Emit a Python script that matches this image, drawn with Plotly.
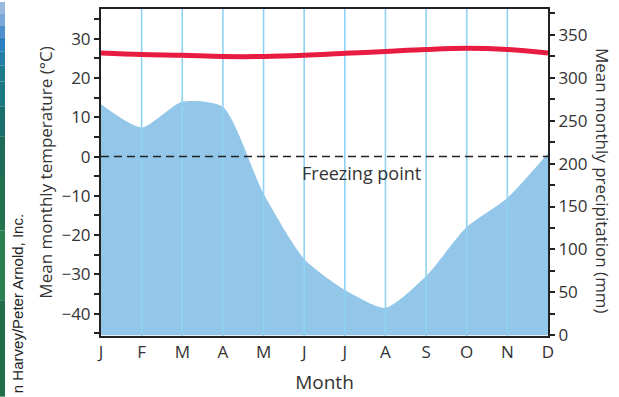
import plotly.graph_objects as go

# Climate data, one value per month
months = ["J", "F", "M", "A", "M", "J", "J", "A", "S", "O", "N", "D"]
temperature_c = [26.4, 26.0, 25.8, 25.5, 25.5, 25.8, 26.3, 26.8, 27.3, 27.6, 27.3, 26.4]
precipitation_mm = [269, 242, 272, 266, 165, 89, 53, 32, 69, 126, 160, 212]

TEMP_RANGE = [-45.7, 37.6]
PRECIP_RANGE = [-0.8, 380]

W, H = 619, 397
ML, MR, MT, MB = 101, 71, 7, 61
PW, PH = W - ML - MR, H - MT - MB


def px_x(p):
    return (p - ML) / PW


def px_y(p):
    return (H - MB - p) / PH


TEXT = "#333333"
FONT = "Open Sans"
idx = list(range(len(months)))

fig = go.Figure()

# Precipitation as a filled area on the right-hand axis
fig.add_trace(go.Scatter(
    x=idx, y=precipitation_mm, mode="lines", line=dict(color="#93c7e9", width=0, shape="spline", smoothing=0.65),
    fill="tozeroy", fillcolor="#93c7e9", yaxis="y", hoverinfo="skip", showlegend=False,
))

# Month gridlines, drawn over the area but under the temperature curve
gx, gy = [], []
for i in idx[1:-1]:
    gx += [i, i, None]
    gy += [PRECIP_RANGE[0], PRECIP_RANGE[1], None]
fig.add_trace(go.Scatter(
    x=gx, y=gy, mode="lines", line=dict(color="#8fd2f2", width=1.6),
    yaxis="y", hoverinfo="skip", showlegend=False,
))

# Temperature curve on the left-hand axis
fig.add_trace(go.Scatter(
    x=idx, y=temperature_c, mode="lines", line=dict(color="#e81c40", width=5, shape="spline"),
    yaxis="y2", hoverinfo="skip", showlegend=False,
))

axis_common = dict(
    showline=True, linecolor="#222222", linewidth=2, showgrid=False, zeroline=False,
    tickfont=dict(family=FONT, size=17, color=TEXT),
)

fig.update_layout(
    width=W, height=H,
    margin=dict(l=ML, r=MR, t=MT, b=MB),
    paper_bgcolor="white", plot_bgcolor="white",
    font=dict(family=FONT, color=TEXT),
    xaxis=dict(
        range=[0, 11], tickvals=idx, ticktext=months, ticks="", mirror=True,
        title=dict(text="Month", font=dict(family=FONT, size=19, color=TEXT), standoff=13),
        **axis_common,
    ),
    yaxis=dict(
        range=PRECIP_RANGE, side="right", tickvals=list(range(0, 351, 50)),
        ticks="outside", ticklen=5, tickwidth=1.5, tickcolor="#222222", mirror=True,
        minor=dict(dtick=25, tick0=0, ticks="outside", ticklen=5, tickwidth=1.5, tickcolor="#222222"),
        **axis_common,
    ),
    yaxis2=dict(
        range=TEMP_RANGE, side="left", overlaying="y", tickvals=list(range(-40, 31, 10)),
        ticks="outside", ticklen=5, tickwidth=1.5, tickcolor="#222222",
        minor=dict(dtick=5, tick0=0, ticks="outside", ticklen=5, tickwidth=1.5, tickcolor="#222222"),
        title=dict(text="Mean monthly temperature (°C)", font=dict(family=FONT, size=17, color=TEXT), standoff=4),
        **axis_common,
    ),
)

# Freezing point reference line
fig.add_shape(type="line", xref="x", yref="y2", x0=0, x1=11, y0=0, y1=0,
              line=dict(color="#222222", width=1.5, dash="8px,5px"), layer="above")
fig.add_annotation(text="Freezing point", xref="x", yref="y2", x=6.42, y=-4.1,
                   showarrow=False, font=dict(family=FONT, size=18, color=TEXT))

# Right-hand axis title reading top to bottom
fig.add_annotation(text="Mean monthly precipitation (mm)", xref="paper", yref="paper",
                   x=px_x(602), y=px_y(180), xanchor="center", yanchor="middle",
                   textangle=90, showarrow=False,
                   font=dict(family=FONT, size=17, color=TEXT))

# Photo edge strip and credit line at the left border
strip = [(0, 12, "#9ab9df"), (12, 24, "#7aa8d8"), (24, 36, "#4f90cf"), (36, 50, "#2a80c0"),
         (50, 64, "#237ea8"), (64, 80, "#1d7b8e"), (80, 105, "#1b7780"), (105, 135, "#1a6f6a"),
         (135, 175, "#1e6c58"), (175, 230, "#23724f"), (230, 300, "#287f50"), (300, 397, "#226d49")]
for y0, y1, c in strip:
    fig.add_shape(type="rect", xref="paper", yref="paper", x0=px_x(0), x1=px_x(5),
                  y0=px_y(y1), y1=px_y(y0), fillcolor=c, line=dict(width=0), layer="above")
fig.add_annotation(text="n Harvey/Peter Arnold, Inc.", xref="paper", yref="paper",
                   x=px_x(17), y=px_y(396), xanchor="center", yanchor="bottom", textangle=-90,
                   showarrow=False, font=dict(family="Liberation Sans Narrow, Liberation Sans", size=15, color="#222222"))

fig.write_html("out.html")
